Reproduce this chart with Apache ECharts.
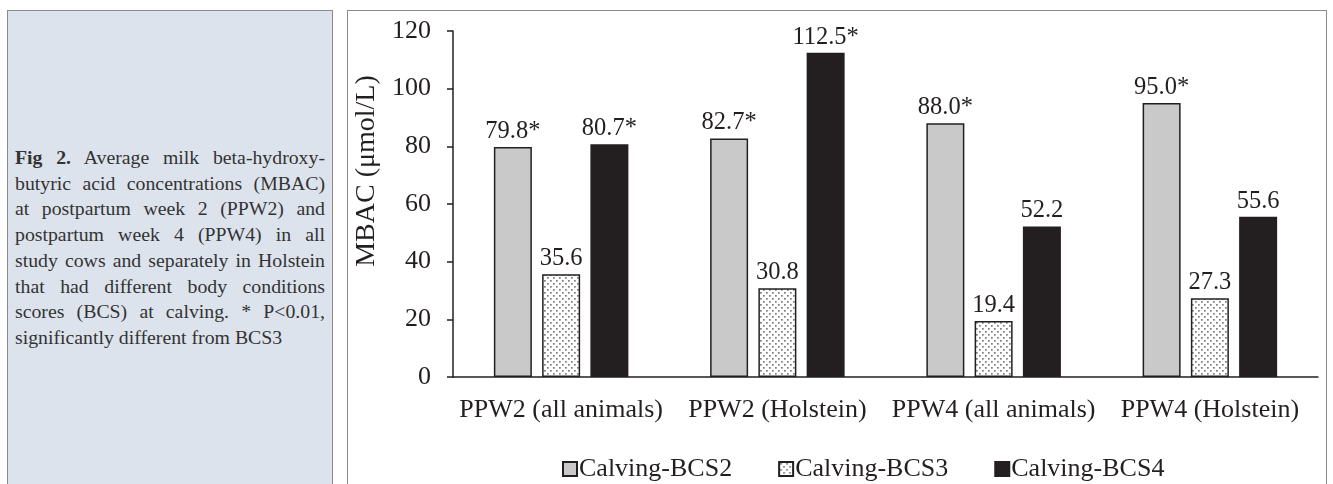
<!DOCTYPE html>
<html>
<head>
<meta charset="utf-8">
<script src="https://cdn.jsdelivr.net/npm/echarts@6/dist/echarts.min.js"></script>
<style>
  html, body { margin: 0; padding: 0; background: #fff; }
  body { width: 1333px; height: 484px; position: relative; overflow: hidden; }
  #caption {
    position: absolute; left: 7px; top: 10px; width: 326px; height: 490px;
    background: #dde3ed; border: 1px solid #8a8a8a; box-sizing: border-box;
    font-family: 'Liberation Serif', 'Times New Roman', serif; font-size: 19.8px;
    color: #333; line-height: 25.7px; padding: 134px 7px 0 7px;
  }
  #caption div { text-align: justify; text-align-last: justify; white-space: nowrap; }
  #caption div.last { text-align-last: left; }
  #frame {
    position: absolute; left: 347px; top: 10px; width: 980px; height: 490px;
    border: 1px solid #8a8a8a; box-sizing: border-box;
  }
  #chart { position: absolute; left: 0; top: 0; width: 1333px; height: 484px; }
</style>
</head>
<body>
<div id="caption">
  <div><b>Fig 2.</b> Average milk beta-hydroxy-</div>
  <div>butyric acid concentrations (MBAC)</div>
  <div>at postpartum week 2 (PPW2) and</div>
  <div>postpartum week 4 (PPW4) in all</div>
  <div>study cows and separately in Holstein</div>
  <div>that had different body conditions</div>
  <div>scores (BCS) at calving. * P&lt;0.01,</div>
  <div class="last">significantly different from BCS3</div>
</div>
<div id="frame"></div>
<div id="chart"></div>
<script>
var categories = ['PPW2 (all animals)', 'PPW2 (Holstein)', 'PPW4 (all animals)', 'PPW4 (Holstein)'];
var bcs2 = [79.8, 82.7, 88.0, 95.0];
var bcs3 = [35.6, 30.8, 19.4, 27.3];
var bcs4 = [80.7, 112.5, 52.2, 55.6];
// * = significantly different from BCS3
var bcs2Sig = [true, true, true, true];
var bcs3Sig = [false, false, false, false];
var bcs4Sig = [true, true, false, false];

var serif = "'Liberation Serif', 'Times New Roman', serif";
var ink = '#231f20';

// dotted fill for BCS3
function dotPattern() {
  var c = document.createElement('canvas');
  c.width = 6; c.height = 6;
  var ctx = c.getContext('2d');
  ctx.fillStyle = '#ffffff';
  ctx.fillRect(0, 0, 6, 6);
  ctx.fillStyle = '#7d7d7d';
  ctx.fillRect(1, 1, 1.7, 1.7);
  ctx.fillRect(4, 4, 1.7, 1.7);
  return c;
}

function makeSeries(name, values, sig, fill) {
  return {
    name: name,
    type: 'bar',
    data: values,
    barWidth: 38,
    barGap: '27%',
    itemStyle: { color: fill, borderColor: ink, borderWidth: 1.5 },
    label: {
      show: true,
      position: 'top',
      distance: 3,
      color: ink,
      fontFamily: serif,
      fontSize: 24.5,
      formatter: function (p) { return p.value.toFixed(1) + (sig[p.dataIndex] ? '*' : ''); }
    }
  };
}

var myChart = echarts.init(document.getElementById('chart'));

var option = {
  animation: false,
  grid: { left: 453, right: 15, top: 31, bottom: 107 },
  legend: {
    top: 451,
    left: 557,
    icon: 'rect',
    itemWidth: 14,
    itemHeight: 14,
    itemGap: 46,
    textStyle: { fontFamily: serif, fontSize: 26, color: ink, padding: [0, 0, 0, -3] }
  },
  xAxis: {
    type: 'category',
    data: categories,
    axisLine: { lineStyle: { color: ink, width: 1.5 } },
    axisTick: { show: false },
    axisLabel: { interval: 0, color: ink, fontFamily: serif, fontSize: 26, margin: 20 }
  },
  yAxis: {
    type: 'value',
    min: 0,
    max: 120,
    interval: 20,
    name: 'MBAC (μmol/L)',
    nameLocation: 'middle',
    nameGap: 53,
    nameTextStyle: { color: ink, fontFamily: serif, fontSize: 28, padding: [0, 0, 0, 66] },
    axisLine: { show: true, lineStyle: { color: ink, width: 1.5 } },
    axisTick: { show: true, length: 6, lineStyle: { color: ink, width: 1.5 } },
    axisLabel: { color: ink, fontFamily: serif, fontSize: 26, margin: 22 },
    splitLine: { show: false }
  },
  series: [
    makeSeries('Calving-BCS2', bcs2, bcs2Sig, '#c9c9c9'),
    makeSeries('Calving-BCS3', bcs3, bcs3Sig, { image: dotPattern(), repeat: 'repeat' }),
    makeSeries('Calving-BCS4', bcs4, bcs4Sig, ink)
  ]
};

myChart.setOption(option);
</script>
</body>
</html>
